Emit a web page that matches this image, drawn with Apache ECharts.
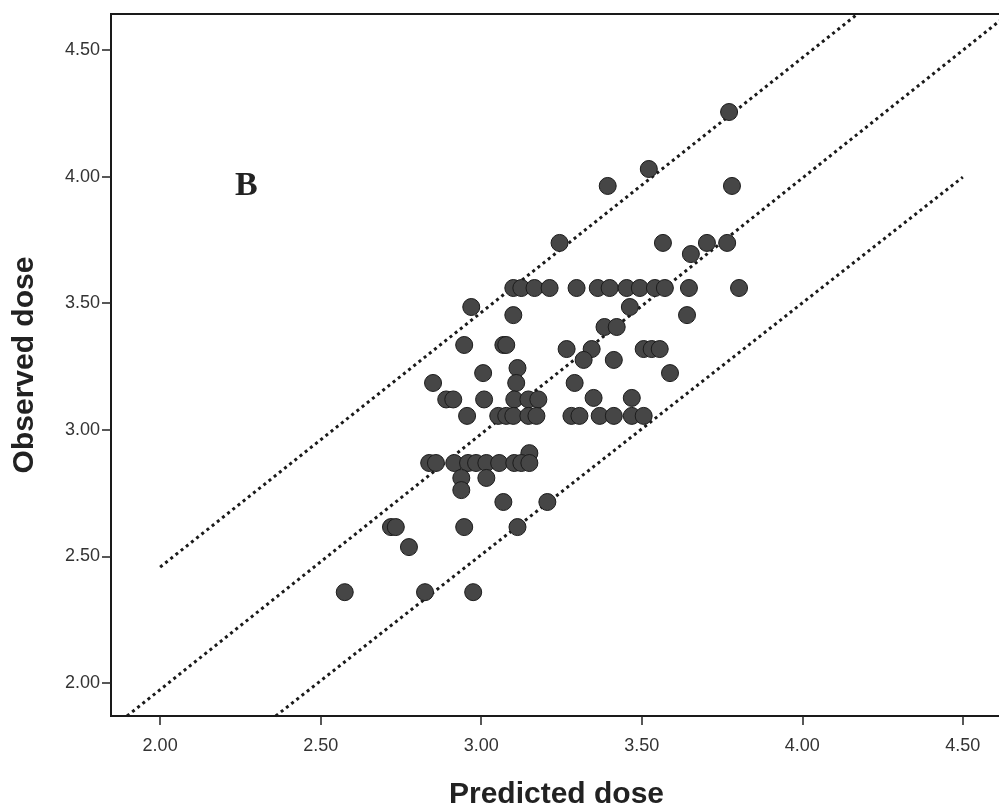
<!DOCTYPE html>
<html>
<head>
<meta charset="utf-8">
<title>Observed vs predicted dose</title>
<script src="https://cdn.jsdelivr.net/npm/echarts@6/dist/echarts.min.js"></script>
<style>
  html, body { margin: 0; padding: 0; background: #fff; }
  #main { width: 999px; height: 810px; }
</style>
</head>
<body>
<div id="main"></div>
<script>
// values
var predicted = [
  3.100, 3.125, 3.166, 3.213, 3.297, 3.363, 3.400, 3.453, 3.494, 3.541, 3.572, 3.647, 3.803,
  2.969, 3.463,
  3.100, 3.641,
  3.384, 3.422,
  2.947, 3.069, 3.078,
  3.266, 3.344, 3.506, 3.531, 3.556,
  3.319, 3.413,
  3.113,
  3.006, 3.588,
  2.850, 3.109, 3.291,
  2.891, 2.913, 3.009, 3.103, 3.147, 3.178, 3.350, 3.469,
  2.956, 3.053, 3.078, 3.100, 3.147, 3.172, 3.281, 3.306, 3.369, 3.413, 3.469, 3.506,
  3.150,
  2.838, 2.859, 2.916, 2.959, 2.984, 3.016, 3.056, 3.103, 3.125, 3.150,
  2.938, 3.016,
  2.938,
  3.069, 3.206,
  2.719, 2.734, 2.947, 3.113,
  2.775,
  2.575, 2.825, 2.975,
  3.772,
  3.522,
  3.394, 3.781,
  3.244, 3.566, 3.703, 3.766,
  3.653
];
var observed = [
  3.56, 3.56, 3.56, 3.56, 3.56, 3.56, 3.56, 3.56, 3.56, 3.56, 3.56, 3.56, 3.56,
  3.485, 3.485,
  3.453, 3.453,
  3.406, 3.406,
  3.335, 3.335, 3.335,
  3.319, 3.319, 3.319, 3.319, 3.319,
  3.276, 3.276,
  3.244,
  3.224, 3.224,
  3.185, 3.185, 3.185,
  3.12, 3.12, 3.12, 3.12, 3.12, 3.12, 3.126, 3.126,
  3.055, 3.055, 3.055, 3.055, 3.055, 3.055, 3.055, 3.055, 3.055, 3.055, 3.055, 3.055,
  2.908,
  2.869, 2.869, 2.869, 2.869, 2.869, 2.869, 2.869, 2.869, 2.869, 2.869,
  2.81, 2.81,
  2.762,
  2.715, 2.715,
  2.616, 2.616, 2.616, 2.616,
  2.537,
  2.359, 2.359, 2.359,
  4.255,
  4.03,
  3.963, 3.963,
  3.738, 3.738, 3.738, 3.738,
  3.694
];

// dotted reference lines (end points in data units)
var upperLine = [[2.0, 2.458], [4.172, 4.642]];
var middleLine = [[1.897, 1.870], [4.622, 4.622]];
var lowerLine = [[2.36, 1.870], [4.5, 3.998]];

var xTicks = [2.0, 2.5, 3.0, 3.5, 4.0, 4.5];
var yTicks = [2.0, 2.5, 3.0, 3.5, 4.0, 4.5];

var points = [];
for (var i = 0; i < predicted.length; i++) {
  points.push([predicted[i], observed[i]]);
}

var dotted = { color: '#1a1a1a', width: 3, type: [3, 3.6], cap: 'butt' };
function refLine(d) {
  return {
    type: 'line', data: d, symbol: 'none', silent: true, z: 3,
    lineStyle: dotted, animation: false
  };
}

var chart = echarts.init(document.getElementById('main'));
chart.setOption({
  animation: false,
  backgroundColor: '#fff',
  title: {
    text: 'B', left: 230, top: 164,
    textStyle: { fontFamily: 'Liberation Serif', fontWeight: 'bold', fontSize: 34, color: '#222' }
  },
  grid: {
    left: 111, top: 14, right: -3, bottom: 94,
    outerBoundsMode: 'none', containLabel: false,
    show: true, borderColor: '#1a1a1a', borderWidth: 2
  },
  xAxis: {
    type: 'value', min: 1.847, max: 4.622,
    name: 'Predicted dose', nameLocation: 'middle', nameGap: 64,
    nameTextStyle: { fontFamily: 'Liberation Sans', fontWeight: 'bold', fontSize: 30, color: '#222' },
    axisLine: { lineStyle: { color: '#1a1a1a', width: 2 } },
    axisTick: { customValues: xTicks, length: 9, lineStyle: { color: '#222', width: 1.5 } },
    axisLabel: {
      customValues: xTicks, margin: 21, fontFamily: 'Liberation Sans', fontSize: 18, color: '#333',
      formatter: function (v) { return v.toFixed(2); }
    },
    splitLine: { show: false }
  },
  yAxis: {
    type: 'value', min: 1.870, max: 4.642,
    name: 'Observed dose', nameLocation: 'middle', nameGap: 71,
    nameTextStyle: { fontFamily: 'Liberation Sans', fontWeight: 'bold', fontSize: 30, color: '#222' },
    axisLine: { lineStyle: { color: '#1a1a1a', width: 2 } },
    axisTick: { customValues: yTicks, length: 9, lineStyle: { color: '#222', width: 1.5 } },
    axisLabel: {
      customValues: yTicks, margin: 11, fontFamily: 'Liberation Sans', fontSize: 18, color: '#333',
      formatter: function (v) { return v.toFixed(2); }
    },
    splitLine: { show: false }
  },
  series: [
    refLine(upperLine),
    refLine(middleLine),
    refLine(lowerLine),
    {
      type: 'scatter', data: points, symbolSize: 17, z: 4,
      itemStyle: { color: '#464646', borderColor: '#1c1c1c', borderWidth: 1, opacity: 1 }
    }
  ]
});
</script>
</body>
</html>
